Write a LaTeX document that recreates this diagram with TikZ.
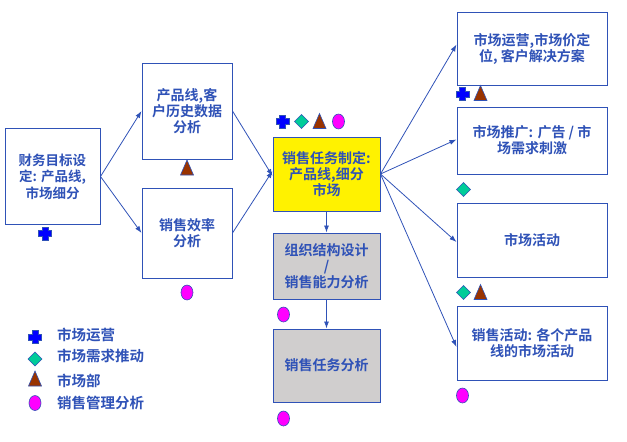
\documentclass[tikz,border=0pt]{standalone}
\usepackage{fontspec}
\setmainfont{Noto Sans CJK SC}[BoldFont={Noto Sans CJK SC Bold}]
\usetikzlibrary{arrows.meta}

\definecolor{lineblue}{RGB}{47,82,183}
\definecolor{plusblue}{RGB}{0,0,255}
\definecolor{teal}{RGB}{0,204,153}
\definecolor{brown}{RGB}{153,51,0}
\definecolor{pink}{RGB}{255,0,255}
\definecolor{grayfill}{RGB}{208,206,206}

\tikzset{
    mkplus/.pic={\filldraw[fill=plusblue, draw=lineblue, line width=0.6pt]
        (-3,-6.5) -- (3,-6.5) -- (3,-3) -- (6.5,-3) -- (6.5,3) -- (3,3) -- (3,6.5)
        -- (-3,6.5) -- (-3,3) -- (-6.5,3) -- (-6.5,-3) -- (-3,-3) -- cycle;},
    mkdiamond/.pic={\filldraw[fill=teal, draw=lineblue, line width=0.6pt]
        (0,-7) -- (7,0) -- (0,7) -- (-7,0) -- cycle;},
    mktri/.pic={\filldraw[fill=brown, draw=lineblue, line width=0.6pt]
        (0,-8) -- (6.5,7) -- (-6.5,7) -- cycle;},
    mkdot/.pic={\filldraw[fill=pink, draw=lineblue, line width=0.6pt]
        (0,0) ellipse (6 and 7.5);}
}

\begin{document}
\begin{tikzpicture}[
    x=1pt, y=-1pt,
    box/.style={rectangle, draw=lineblue, line width=1pt, fill=white, text=lineblue, align=center,
        inner sep=0pt, font=\bfseries\fontsize{14}{16}\selectfont},
    legend/.style={anchor=west, text=lineblue, inner sep=0pt, font=\bfseries\fontsize{14.5}{16}\selectfont},
    arrow/.style={lineblue, line width=0.8pt, -{Latex[length=7pt,width=5pt]}}
]
    \useasboundingbox (0,0) rectangle (627,442);

    % left side
    \node (goal) [box, minimum width=95pt, minimum height=96pt, font=\bfseries\fontsize{13.5}{16.5}\selectfont]
        at (52.5,176.5) {财务目标设\\定: 产品线,\\市场细分};
    \node (history) [box, minimum width=90pt, minimum height=96pt] at (187,111) {产品线,客\\户历史数据\\分析};
    \node (effic) [box, minimum width=90pt, minimum height=90pt] at (187,233) {销售效率\\分析};

    % middle column
    \node (task) [box, fill=yellow, minimum width=107pt, minimum height=74pt] at (326.5,174) {销售任务制定:\\产品线,细分\\市场};
    \node (org) [box, fill=grayfill, minimum width=107pt, minimum height=66pt] at (326.5,266) {组织结构设计\\/\\销售能力分析};
    \node (taskana) [box, fill=grayfill, minimum width=107pt, minimum height=73pt] at (326.5,365.5) {销售任务分析};

    % right column
    \node (ops) [box, minimum width=150pt, minimum height=73pt] at (532,48.5) {市场运营,市场价定\\位, 客户解决方案};
    \node (promo) [box, minimum width=150pt, minimum height=67pt] at (532,140.5) {市场推广: 广告 / 市\\场需求刺激};
    \node (activ) [box, minimum width=150pt, minimum height=74pt] at (532,240) {市场活动};
    \node (salesact) [box, minimum width=150pt, minimum height=74pt] at (532,343) {销售活动: 各个产品\\线的市场活动};

    \draw [arrow] (goal.east) -- (history.west);
    \draw [arrow] (goal.east) -- (effic.west);
    \draw [arrow] (history.east) -- ([yshift=-2pt]task.west);
    \draw [arrow] (effic.east) -- ([yshift=3pt]task.west);
    \draw [arrow] (task.south) -- (org.north);
    \draw [arrow] (org.south) -- (taskana.north);
    \draw [arrow] (task.east) -- ([yshift=4pt]ops.west);
    \draw [arrow] (task.east) -- ([yshift=1pt]promo.west);
    \draw [arrow] (task.east) -- ([yshift=-2pt]activ.west);
    \draw [arrow] (task.east) -- ([yshift=-4pt]salesact.west);

    % markers
    \pic at ([xshift=-7.5pt, yshift=-8.5pt]goal.south) {mkplus};
    \pic at ([yshift=-8.5pt]history.south) {mktri};
    \pic at ([yshift=-14pt]effic.south) {mkdot};
    \pic at ([xshift=10pt, yshift=15pt]task.north west) {mkplus};
    \pic at ([xshift=29pt, yshift=15pt]task.north west) {mkdiamond};
    \pic at ([xshift=47pt, yshift=15pt]task.north west) {mktri};
    \pic at ([xshift=66pt, yshift=15pt]task.north west) {mkdot};
    \pic at ([xshift=11pt, yshift=-15pt]org.south west) {mkdot};
    \pic at ([xshift=11pt, yshift=-16pt]taskana.south west) {mkdot};
    \pic at ([xshift=6pt, yshift=-8.5pt]ops.south west) {mkplus};
    \pic at ([xshift=24pt, yshift=-8pt]ops.south west) {mktri};
    \pic at ([xshift=7pt, yshift=-15pt]promo.south west) {mkdiamond};
    \pic at ([xshift=7pt, yshift=-15pt]activ.south west) {mkdiamond};
    \pic at ([xshift=24pt, yshift=-15pt]activ.south west) {mktri};
    \pic at ([xshift=6pt, yshift=-15pt]salesact.south west) {mkdot};

    % legend
    \pic at (35,337) {mkplus};
    \pic at (35,359) {mkdiamond};
    \pic at (35,379) {mktri};
    \pic at (35,403) {mkdot};
    \node (lgops) [legend] at (57,335) {市场运营};
    \node (lgdemand) [legend] at (57,356) {市场需求推动};
    \node (lgdept) [legend] at (57,381) {市场部};
    \node (lgmgmt) [legend] at (57,403) {销售管理分析};
\end{tikzpicture}
\end{document}
